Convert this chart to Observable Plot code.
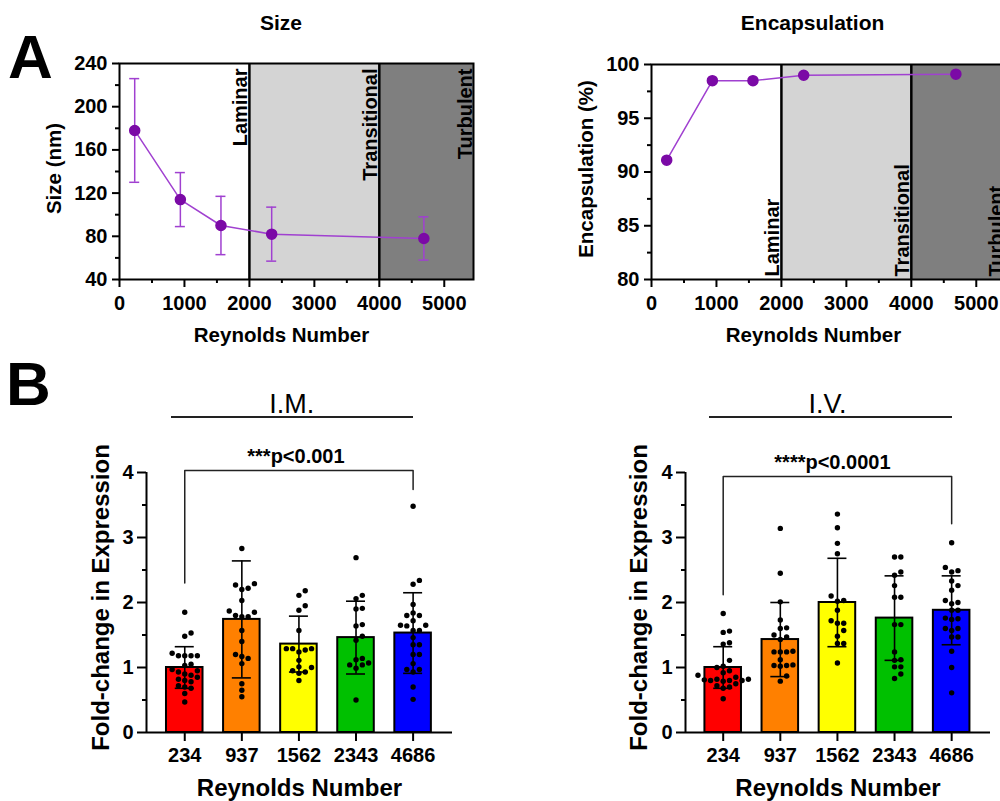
<!DOCTYPE html>
<html>
<head>
<meta charset="utf-8">
<script src="https://cdn.jsdelivr.net/npm/d3@7"></script>
<script src="https://cdn.jsdelivr.net/npm/@observablehq/plot@0.6"></script>
<style>
  html, body { margin: 0; padding: 0; background: #fff; overflow: hidden; }
  #page { position: relative; width: 1000px; height: 801px; overflow: hidden; background: #fff;
          font-family: 'Liberation Sans', Arial, Helvetica, sans-serif; color: #000; }
  .panel { position: absolute; }
  .panel svg { max-width: none !important; display: block; }
  .lbl { position: absolute; line-height: 1; white-space: nowrap; text-align: center; }
  .hline { position: absolute; height: 2px; background: #222; }
  g[aria-label="y-axis"] line, g[aria-label="x-axis"] line,
  g[aria-label="y-axis tick"] path, g[aria-label="x-axis tick"] path { stroke-width: 2px; }
</style>
</head>
<body>
<div id="page">
  <div class="lbl" style="left:8px;top:25.5px;font-size:62px;font-weight:bold;text-align:left">A</div>
  <div class="lbl" style="left:6px;top:352.5px;font-size:62px;font-weight:bold;text-align:left">B</div>
  <div class="lbl" style="left:181px;width:200px;top:12.2px;font-size:21px;font-weight:bold">Size</div>
  <div class="lbl" style="left:712.6px;width:200px;top:12.2px;font-size:21px;font-weight:bold">Encapsulation</div>
  <div class="lbl" style="left:191.7px;width:200px;top:391px;font-size:27px;font-weight:normal">I.M.</div>
  <div class="lbl" style="left:727.5px;width:200px;top:391px;font-size:27px;font-weight:normal">I.V.</div>
  <div class="hline" style="left:170.7px;width:242.6px;top:415.7px"></div>
  <div class="hline" style="left:709px;width:243px;top:415.7px"></div>
  <div class="panel" id="a1" style="left:0;top:0;width:500px;height:360px"></div>
  <div class="panel" id="a2" style="left:500px;top:0;width:520px;height:360px"></div>
  <div class="panel" id="b1" style="left:0;top:360px;width:500px;height:441px"></div>
  <div class="panel" id="b2" style="left:500px;top:360px;width:500px;height:441px"></div>
</div>
<script>
// ---------------- data ----------------
const reynolds = [234, 937, 1562, 2343, 4686];
const reynoldsLabels = ["234", "937", "1562", "2343", "4686"];

// Panel A: size (nm), mean with error bars
const sizeMean = [178, 114, 90, 82, 78];
const sizeLow  = [130, 89, 63, 57, 58];
const sizeHigh = [226, 139, 117, 107, 98];
// Panel A: encapsulation (%)
const encapsulation = [91.1, 98.5, 98.5, 99.0, 99.1];

const regimes = ["Laminar", "Transitional", "Turbulent"];
const regimeEdges = [0, 2000, 4000, 5450];

const sizeTicks = [40, 80, 120, 160, 200, 240];
const sizeMinor = [60, 100, 140, 180, 220];
const encTicks = [80, 85, 90, 95, 100];
const encMinor = [82.5, 87.5, 92.5, 97.5];
const reTicks = [0, 1000, 2000, 3000, 4000, 5000];
const reMinor = [500, 1500, 2500, 3500, 4500];

// Panel B: fold-change in expression
const barColors = ["#ff0000", "#ff8000", "#ffff00", "#00c000", "#0000ff"];
const imMean = [1.0, 1.74, 1.36, 1.46, 1.53];
const imSD   = [0.32, 0.90, 0.43, 0.56, 0.62];
const ivMean = [1.0, 1.43, 2.0, 1.76, 1.88];
const ivSD   = [0.32, 0.57, 0.68, 0.65, 0.53];

const imRed    = [1.85, 1.53, 1.48, 1.22, 1.18, 1.18, 1.18, 1.18, 1.05, 1.03, 0.97, 0.95, 0.93, 0.90, 0.88, 0.85, 0.82, 0.80, 0.78, 0.72, 0.70, 0.68, 0.60, 0.47];
const imOrange = [2.83, 2.29, 2.27, 2.22, 2.20, 2.03, 1.87, 1.85, 1.80, 1.78, 1.78, 1.57, 1.40, 1.20, 1.17, 1.14, 1.06, 0.75, 0.65, 0.55];
const imYellow = [2.18, 2.11, 1.95, 1.88, 1.57, 1.29, 1.29, 1.29, 1.27, 1.24, 1.11, 1.01, 1.00, 0.95, 0.93, 0.91, 0.80];
const imGreen  = [2.69, 2.11, 2.06, 1.91, 1.90, 1.66, 1.64, 1.48, 1.42, 1.14, 1.12, 1.07, 1.04, 1.04, 0.99, 0.50];
const imBlue   = [3.48, 2.34, 2.28, 1.97, 1.84, 1.80, 1.80, 1.72, 1.65, 1.65, 1.64, 1.57, 1.57, 1.46, 1.35, 1.35, 1.20, 1.20, 1.06, 0.97, 0.97, 0.93, 0.70, 0.51];

const ivRed    = [1.83, 1.56, 1.54, 1.38, 1.36, 1.11, 1.02, 1.00, 0.95, 0.92, 0.88, 0.85, 0.82, 0.82, 0.81, 0.80, 0.80, 0.80, 0.79, 0.75, 0.72, 0.70, 0.68, 0.52];
const ivOrange = [3.14, 2.45, 2.01, 1.73, 1.61, 1.60, 1.50, 1.47, 1.43, 1.25, 1.24, 1.24, 1.24, 1.12, 1.04, 1.03, 1.03, 1.02, 0.87, 0.79];
const ivYellow = [3.36, 3.15, 2.91, 2.75, 2.10, 2.03, 2.02, 1.88, 1.72, 1.68, 1.68, 1.57, 1.48, 1.37, 1.37, 1.07];
const ivGreen  = [2.70, 2.70, 2.47, 2.42, 2.26, 2.08, 2.08, 1.66, 1.66, 1.24, 1.12, 1.11, 1.01, 1.01, 0.90, 0.83];
const ivBlue   = [2.92, 2.54, 2.49, 2.47, 2.33, 2.26, 2.19, 2.03, 2.00, 1.98, 1.88, 1.88, 1.76, 1.75, 1.74, 1.60, 1.60, 1.57, 1.47, 1.47, 1.25, 1.00, 0.61];

const foldTicks = [0, 1, 2, 3, 4];
const foldMinor = [0.5, 1.5, 2.5, 3.5];
// significance bracket: [left end, top, right end] in fold-change units
const imBracket = [2.3, 4.03, 3.74];
const ivBracket = [2.12, 3.94, 3.21];
const imSig = "***p<0.001";
const ivSig = "****p<0.0001";

// ---------------- styling ----------------
const FONT = "'Liberation Sans', Arial, Helvetica, sans-serif";
const PURPLE_DOT = "#7b0aa6";
const PURPLE_LINE = "#a040d0";
const baseStyle = {fontFamily: FONT, fontSize: "20px", fontWeight: "bold", background: "transparent", color: "black", overflow: "visible"};
const intFmt = d3.format("d");

// ---------------- panel A ----------------
function panelA(opts) {
  const {values, low, high, yDomain, yTicks, yMinor, yLabel, marginLeft, marginRight, marginTop, width, labelsAtTop, labelDx} = opts;
  const data = reynolds.map((r, i) => ({x: r, y: values[i], lo: low ? low[i] : null, hi: high ? high[i] : null}));
  const regimeData = regimes.map((name, i) => ({name, edge: regimeEdges[i + 1]}));
  const marks = [
    Plot.rect([{x1: regimeEdges[1], x2: regimeEdges[2]}], {x1: "x1", x2: "x2", fill: "#d4d4d4"}),
    Plot.rect([{x1: regimeEdges[2], x2: regimeEdges[3]}], {x1: "x1", x2: "x2", fill: "#7f7f7f"}),
    Plot.ruleX([regimeEdges[1], regimeEdges[2]], {stroke: "black", strokeWidth: 2.5}),
    Plot.frame({stroke: "black", strokeWidth: 2}),
    Plot.ruleY(yMinor, {y: d => d, x1: regimeEdges[0], x2: regimeEdges[0], insetLeft: -4, stroke: "black", strokeWidth: 2}),
    Plot.ruleX(reMinor, {x: d => d, y1: yDomain[0], y2: yDomain[0], insetBottom: -4, stroke: "black", strokeWidth: 2}),
  ];
  if (low) {
    marks.push(
      Plot.ruleX(data, {x: "x", y1: "lo", y2: "hi", stroke: PURPLE_LINE, strokeWidth: 1.5}),
      Plot.ruleY(data, {y: "hi", x1: "x", x2: "x", insetLeft: -5, insetRight: -5, stroke: PURPLE_LINE, strokeWidth: 1.5}),
      Plot.ruleY(data, {y: "lo", x1: "x", x2: "x", insetLeft: -5, insetRight: -5, stroke: PURPLE_LINE, strokeWidth: 1.5})
    );
  }
  marks.push(
    Plot.line(data, {x: "x", y: "y", stroke: PURPLE_LINE, strokeWidth: 1.5}),
    Plot.dot(data, {x: "x", y: "y", r: 5, fill: PURPLE_DOT, stroke: PURPLE_DOT}),
    Plot.text(regimeData, {
      x: "edge", y: labelsAtTop ? yDomain[1] : yDomain[0], text: "name", rotate: -90,
      textAnchor: labelsAtTop ? "end" : "start", lineAnchor: "bottom",
      dx: labelDx, dy: labelsAtTop ? 5 : -3, fontSize: 20, fontWeight: "bold", fill: "black"
    }),
    Plot.text([yLabel], {text: d => d, frameAnchor: "left", rotate: -90, textAnchor: "middle", lineAnchor: "middle", dx: -65, dy: -3, fontSize: 20.5, fontWeight: "bold"}),
    Plot.text(["Reynolds Number"], {text: d => d, frameAnchor: "bottom", textAnchor: "middle", lineAnchor: "bottom", dx: -15, dy: 62, fontSize: 20.5, fontWeight: "bold"})
  );
  return Plot.plot({
    width, height: 360, marginLeft, marginRight, marginTop, marginBottom: 81,
    style: baseStyle,
    x: {domain: [regimeEdges[0], regimeEdges[3]], ticks: reTicks, tickFormat: intFmt, tickSize: 8, tickPadding: 8, label: null},
    y: {domain: yDomain, ticks: yTicks, tickFormat: intFmt, tickSize: 7, tickPadding: 5, label: null},
    marks
  });
}

document.getElementById("a1").append(panelA({
  values: sizeMean, low: sizeLow, high: sizeHigh, yDomain: [40, 240], yTicks: sizeTicks, yMinor: sizeMinor,
  yLabel: "Size (nm)", marginLeft: 119, marginRight: 27, marginTop: 63, width: 500, labelsAtTop: true, labelDx: -2
}));
document.getElementById("a2").append(panelA({
  values: encapsulation, low: null, high: null, yDomain: [80, 100], yTicks: encTicks, yMinor: encMinor,
  yLabel: "Encapsulation (%)", marginLeft: 151, marginRight: 15, marginTop: 64, width: 520, labelsAtTop: false, labelDx: -2.5
}));

// ---------------- panel B ----------------
const BAR_HALF = 0.32;

function swarmOffsets(values, pxY, step, minDist) {
  const order = d3.range(values.length).sort((a, b) => d3.ascending(values[a], values[b]));
  const placed = [];
  const off = new Array(values.length).fill(0);
  for (const i of order) {
    const py = values[i] * pxY;
    let best = 0;
    for (let k = 0; k < 60; k++) {
      const cand = k === 0 ? 0 : (k % 2 ? 1 : -1) * Math.ceil(k / 2) * step;
      if (placed.every(p => Math.hypot(p.x - cand, p.y - py) >= minDist)) { best = cand; break; }
    }
    placed.push({x: best, y: py});
    off[i] = best;
  }
  return off;
}

function panelB(opts) {
  const {means, sds, groups, bracket, sig, sigDx, marginLeft, marginRight, xDomain, yLabelDx} = opts;
  const width = 500, height = 441, marginTop = 112, marginBottom = 69;
  const pxX = (width - marginLeft - marginRight) / (xDomain[1] - xDomain[0]);
  const pxY = (height - marginTop - marginBottom) / 4;
  const stats = means.map((m, i) => ({i, mean: m, lo: m - sds[i], hi: m + sds[i], color: barColors[i]}));
  const dots = groups.flatMap((vals, gi) => {
    const off = swarmOffsets(vals, pxY, 6.3, 6);
    return vals.map((v, j) => ({x: gi + off[j] / pxX, y: v}));
  });
  const br = [
    {x: 0, y: bracket[0]}, {x: 0, y: bracket[1]},
    {x: groups.length - 1, y: bracket[1]}, {x: groups.length - 1, y: bracket[2]}
  ];
  return Plot.plot({
    width, height, marginLeft, marginRight, marginTop, marginBottom,
    style: baseStyle,
    color: {type: "identity"},
    x: {domain: xDomain, ticks: d3.range(reynoldsLabels.length), tickFormat: i => reynoldsLabels[i], tickSize: 9, tickPadding: 6, label: null},
    y: {domain: [0, 4], ticks: foldTicks, tickFormat: intFmt, tickSize: 9, tickPadding: 4, label: null},
    marks: [
      Plot.rect(stats, {x1: d => d.i - BAR_HALF, x2: d => d.i + BAR_HALF, y1: 0, y2: "mean", fill: "color", stroke: "black", strokeWidth: 2}),
      Plot.dot(dots, {x: "x", y: "y", r: 2.7, fill: "black"}),
      Plot.ruleX(stats, {x: "i", y1: "lo", y2: "hi", stroke: "black", strokeWidth: 1.6}),
      Plot.ruleY(stats, {y: "hi", x1: "i", x2: "i", insetLeft: -9.5, insetRight: -9.5, stroke: "black", strokeWidth: 1.6}),
      Plot.ruleY(stats, {y: "lo", x1: "i", x2: "i", insetLeft: -9.5, insetRight: -9.5, stroke: "black", strokeWidth: 1.6}),
      Plot.ruleY(foldMinor, {y: d => d, x1: xDomain[0], x2: xDomain[0], insetLeft: -4, stroke: "black", strokeWidth: 2}),
      Plot.ruleY([0], {stroke: "black", strokeWidth: 2}),
      Plot.ruleX([xDomain[0]], {stroke: "black", strokeWidth: 2}),
      Plot.line(br, {x: "x", y: "y", stroke: "#222", strokeWidth: 1.5}),
      Plot.text([sig], {text: d => d, x: 2, y: bracket[1] + 0.12, dx: sigDx, textAnchor: "middle", lineAnchor: "bottom", fontSize: 20, fontWeight: "bold"}),
      Plot.text(["Fold-change in Expression"], {text: d => d, frameAnchor: "left", rotate: -90, textAnchor: "middle", lineAnchor: "middle", dx: yLabelDx, dy: -5, fontSize: 24, fontWeight: "bold"}),
      Plot.text(["Reynolds Number"], {text: d => d, frameAnchor: "bottom", textAnchor: "middle", lineAnchor: "bottom", dy: 63, fontSize: 24, fontWeight: "bold"})
    ]
  });
}

document.getElementById("b1").append(panelB({
  means: imMean, sds: imSD, groups: [imRed, imOrange, imYellow, imGreen, imBlue],
  bracket: imBracket, sig: imSig, sigDx: -3, marginLeft: 146, marginRight: 48, xDomain: [-0.67, 4.69], yLabelDx: -45
}));
document.getElementById("b2").append(panelB({
  means: ivMean, sds: ivSD, groups: [ivRed, ivOrange, ivYellow, ivGreen, ivBlue],
  bracket: ivBracket, sig: ivSig, sigDx: -5, marginLeft: 185, marginRight: 10, xDomain: [-0.66, 4.68], yLabelDx: -46
}));
</script>
</body>
</html>
